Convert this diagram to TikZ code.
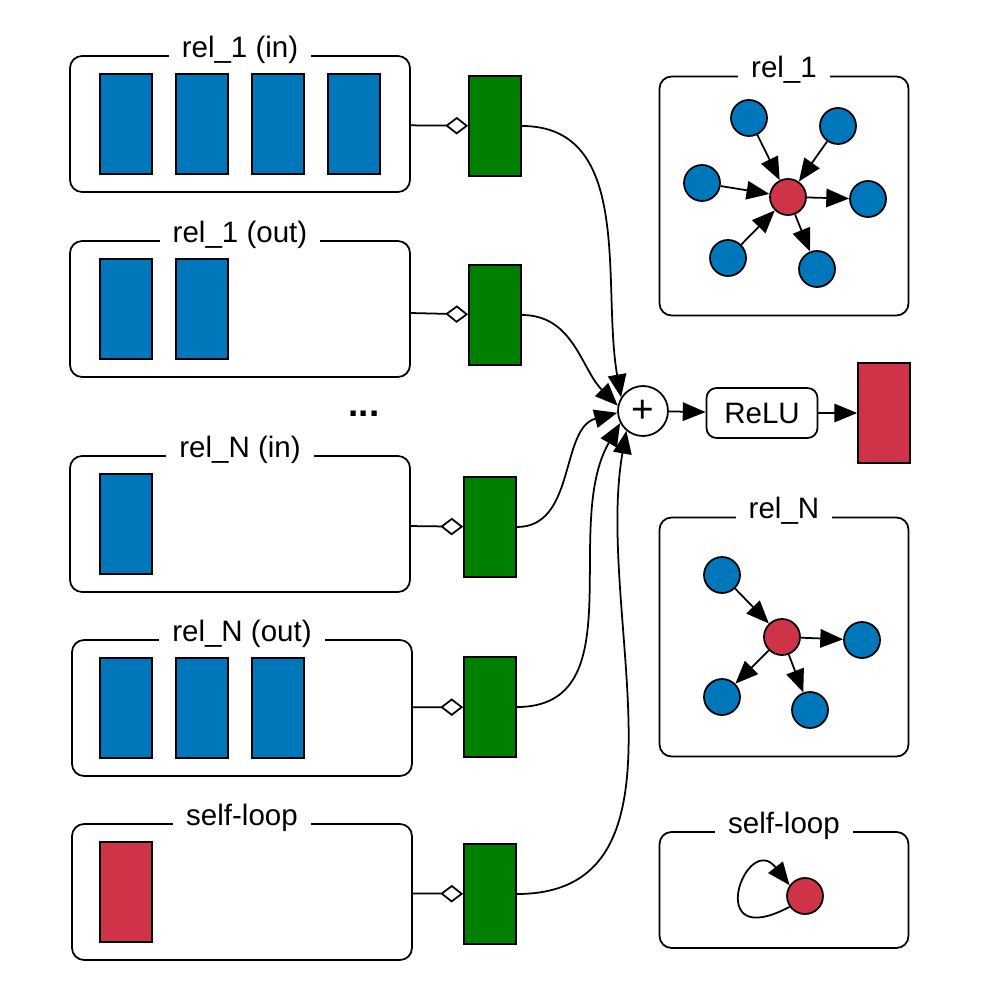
\documentclass[tikz,border=0pt]{standalone}
\usepackage{fontspec}
\setmainfont{Liberation Sans}
\usetikzlibrary{arrows.meta}
\definecolor{featblue}{RGB}{0,119,187}
\definecolor{featred}{RGB}{206,51,72}
\definecolor{weightgreen}{RGB}{0,128,0}
\tikzset{
    panel/.style={draw, rounded corners=0.24cm, minimum width=6.8cm, minimum height=2.72cm},
    gpanel/.style={draw, rounded corners=0.24cm, minimum width=4.98cm, minimum height=4.78cm},
    title/.style={fill=white, inner xsep=0.26cm, inner ysep=0.06cm, anchor=base},
    feat/.style={draw, minimum width=1.04cm, minimum height=2cm, inner sep=0},
    vtx/.style={circle, draw, minimum size=0.72cm, inner sep=0},
    arr/.style={-{Triangle[length=13pt,width=10.5pt]}},
    agg/.style={-{Diamond[open,length=13pt,width=10pt]}}
}
\begin{document}
\begin{tikzpicture}[x=0.02cm, y=-0.02cm, line width=1pt, font=\fontsize{16.8}{20}\selectfont]
            \useasboundingbox (0,0) rectangle (980,986);

            \node[panel] (in1) at (240,124) {};
            \node[title] at ([yshift=-0.04cm]in1.north) {rel\_1 (in)};
            \foreach \i in {0,...,3}
                \node[feat, fill=featblue] (in1-\i) at (126+76*\i,124) {};
            \node[panel] (out1) at (240,309) {};
            \node[title] at ([yshift=-0.04cm]out1.north) {rel\_1 (out)};
            \foreach \i in {0,1}
                \node[feat, fill=featblue] (out1-\i) at (126+76*\i,309) {};

            \node[font=\fontsize{21}{24}\bfseries] (dots) at (364,414) {...};

            \node[panel] (inN) at (240,524) {};
            \node[title] at ([yshift=-0.04cm]inN.north) {rel\_N (in)};
            \node[feat, fill=featblue] (inN-0) at (126,524) {};
            \node[panel] (outN) at (242,708) {};
            \node[title] at ([yshift=-0.04cm]outN.north) {rel\_N (out)};
            \foreach \i in {0,...,2}
                \node[feat, fill=featblue] (outN-\i) at (126+76*\i,708) {};
            \node[panel] (self) at (242,892) {};
            \node[title] at ([yshift=-0.04cm]self.north) {self-loop};
            \node[feat, fill=featred] (self-0) at (126,892) {};

            \node[feat, fill=weightgreen] (w1) at (495,126) {};
            \node[feat, fill=weightgreen] (w2) at (495,315) {};
            \node[feat, fill=weightgreen] (w3) at (490,527) {};
            \node[feat, fill=weightgreen] (w4) at (490,707) {};
            \node[feat, fill=weightgreen] (w5) at (490,894) {};
            \draw[agg] (in1) -- (w1);
            \draw[agg] (out1) -- (w2);
            \draw[agg] (inN) -- (w3);
            \draw[agg] (outN) -- (w4);
            \draw[agg] (self) -- (w5);

            \node[circle, draw, minimum size=1cm, inner sep=0, font=\fontsize{22}{24}\selectfont] (sum) at (643,411) {+};
            \node[draw, rounded corners=0.2cm, minimum width=2.22cm, minimum height=1cm] (relu) at (762,413) {ReLU};
            \node[feat, fill=featred] (h) at (884,413) {};
            \draw[arr] (w1.east) to[out=0, in=100] (sum.148);
            \draw[arr] (w2.east) to[out=0, in=135] (sum.168);
            \draw[arr] (w3.east) to[out=0, in=195] (sum.184);
            \draw[arr] (w4.east) to[out=0, in=240] (sum.208);
            \draw[arr] (w5.east) to[out=0, in=260] (sum.230);
            \draw[arr] (sum) -- (relu);
            \draw[arr] (relu) -- (h);

            \node[gpanel] (g1) at (784,196) {};
            \node[title] at ([yshift=-0.04cm]g1.north) {rel\_1};
            \node[vtx, fill=featred] (c1) at (788,197) {};
            \node[vtx, fill=featblue] (a1) at (749,118) {};
            \node[vtx, fill=featblue] (a2) at (838,126) {};
            \node[vtx, fill=featblue] (a3) at (702,183) {};
            \node[vtx, fill=featblue] (a4) at (868,199) {};
            \node[vtx, fill=featblue] (a5) at (728,258) {};
            \node[vtx, fill=featblue] (a6) at (817,269) {};
            \draw[arr] (a1) -- (c1);
            \draw[arr] (a2) -- (c1);
            \draw[arr] (a3) -- (c1);
            \draw[arr] (a5) -- (c1);
            \draw[arr] (c1) -- (a4);
            \draw[arr] (c1) -- (a6);

            \node[gpanel] (gN) at (784,637) {};
            \node[title] at ([yshift=-0.04cm]gN.north) {rel\_N};
            \node[vtx, fill=featred] (cN) at (782,637) {};
            \node[vtx, fill=featblue] (b1) at (722,575) {};
            \node[vtx, fill=featblue] (b2) at (862,640) {};
            \node[vtx, fill=featblue] (b3) at (722,697) {};
            \node[vtx, fill=featblue] (b4) at (810,710) {};
            \draw[arr] (b1) -- (cN);
            \draw[arr] (cN) -- (b2);
            \draw[arr] (cN) -- (b3);
            \draw[arr] (cN) -- (b4);

            \node[gpanel, minimum height=2.32cm] (gs) at (784,890) {};
            \node[title] at ([yshift=-0.04cm]gs.north) {self-loop};
            \node[vtx, fill=featred] (cs) at (805,896) {};
            \draw[arr] (cs.215) .. controls +(208:2cm) and +(128:1.4cm) .. (cs.145);
        \end{tikzpicture}
\end{document}
